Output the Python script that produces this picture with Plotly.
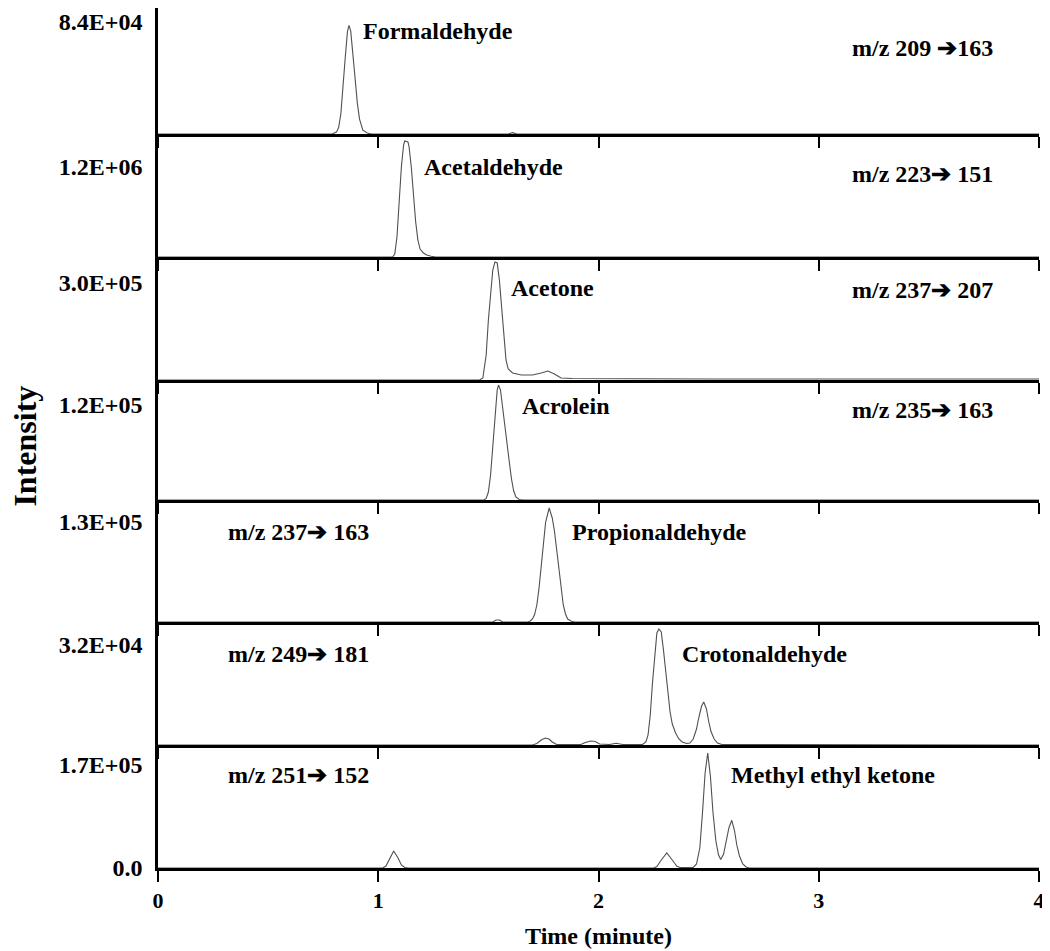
import plotly.graph_objects as go
from plotly.subplots import make_subplots

# Chromatogram traces (time in minutes, intensity in counts)
form_t = [0, 0.79, 0.81, 0.82, 0.83, 0.84, 0.85, 0.86, 0.867, 0.875, 0.885, 0.895, 0.905, 0.915, 0.93, 0.95, 0.97,
          1.59, 1.61, 1.63, 4.0]
form_i = [0, 0, 1400, 4900, 14800, 33000, 57000, 76600, 81500, 77300, 61900, 41500, 23200, 11200, 2800, 700, 0,
          0, 1000, 0, 0]

acet_t = [0, 1.065, 1.075, 1.085, 1.095, 1.105, 1.115, 1.12, 1.135, 1.14, 1.15, 1.16, 1.17, 1.18, 1.19, 1.205,
          1.22, 1.24, 1.26, 4.0]
acet_i = [0, 0, 40000, 265000, 729000, 1193000, 1485000, 1538000, 1525000, 1459000, 1193000, 822000, 464000,
          225000, 106000, 53000, 26500, 10600, 0, 0]

acetone_t = [0, 1.46, 1.475, 1.49, 1.50, 1.51, 1.52, 1.53, 1.54, 1.55, 1.56, 1.57, 1.58, 1.59, 1.61, 1.65, 1.70,
             1.74, 1.77, 1.80, 1.83, 1.88, 2.5, 3.5, 4.0]
acetone_i = [0, 0, 6200, 77300, 185600, 278000, 340000, 365000, 362000, 309000, 216500, 123700, 61900, 34000,
             21700, 15500, 15500, 21700, 27800, 18600, 6200, 4600, 3100, 3100, 3100]

acro_t = [0, 1.48, 1.49, 1.50, 1.51, 1.52, 1.53, 1.54, 1.546, 1.555, 1.565, 1.575, 1.585, 1.595, 1.605, 1.615,
          1.625, 1.64, 1.66, 4.0]
acro_i = [0, 0, 1900, 10100, 31600, 65700, 107400, 138900, 145200, 138900, 116200, 90900, 72000, 48000, 26500,
          11400, 3800, 630, 0, 0]

prop_t = [0, 1.52, 1.535, 1.55, 1.565, 1.68, 1.69, 1.70, 1.71, 1.72, 1.73, 1.74, 1.75, 1.76, 1.776, 1.79, 1.80,
          1.81, 1.82, 1.83, 1.84, 1.85, 1.86, 1.875, 1.89, 4.0]
prop_i = [0, 0, 2600, 2600, 0, 0, 1300, 3900, 9750, 22100, 44200, 72800, 104000, 130000, 148200, 135200, 118300,
          93600, 65000, 40300, 22100, 10400, 3900, 1300, 0, 0]

crot_t = [0, 1.70, 1.72, 1.74, 1.758, 1.775, 1.79, 1.81, 1.92, 1.94, 1.965, 1.985, 2.005, 2.05, 2.08, 2.11, 2.20,
          2.215, 2.225, 2.235, 2.245, 2.255, 2.265, 2.274, 2.285, 2.295, 2.305, 2.315, 2.325, 2.335, 2.35, 2.365,
          2.38, 2.40, 2.415, 2.43, 2.445, 2.455, 2.468, 2.478, 2.49, 2.50, 2.51, 2.525, 2.54, 2.56, 4.0]
crot_i = [0, 0, 480, 1600, 2240, 1920, 960, 160, 160, 800, 1280, 1120, 320, 160, 540, 160, 160,
          960, 3200, 9600, 19840, 29440, 35840, 37120, 36160, 30400, 23040, 16000, 10560, 6720, 3840, 1920,
          960, 480, 640, 1920, 5120, 8640, 12480, 13760, 11520, 7680, 4480, 1920, 640, 160, 0]

mek_t = [0, 1.02, 1.035, 1.05, 1.07, 1.09, 1.105, 1.12, 1.14, 2.25, 2.265, 2.285, 2.31, 2.335, 2.355, 2.37, 2.43,
         2.445, 2.46, 2.472, 2.484, 2.496, 2.508, 2.52, 2.533, 2.545, 2.555, 2.568, 2.58, 2.592, 2.605, 2.617,
         2.628, 2.64, 2.655, 2.67, 2.685, 4.0]
mek_i = [0, 0, 3300, 14850, 28050, 16500, 4950, 825, 0, 0, 2475, 13200, 24750, 13200, 3300, 825, 825,
         6600, 33000, 90750, 156750, 189750, 151800, 90750, 44550, 21450, 14025, 23100, 42900, 66000, 78700, 62700,
         37950, 19800, 6600, 1650, 0, 0]

compounds = ["Formaldehyde", "Acetaldehyde", "Acetone", "Acrolein",
             "Propionaldehyde", "Crotonaldehyde", "Methyl ethyl ketone"]
transitions = ["m/z 209 ➔163", "m/z 223➔ 151", "m/z 237➔ 207", "m/z 235➔ 163",
               "m/z 237➔ 163", "m/z 249➔ 181", "m/z 251➔ 152"]
scale_vals = [8.4e4, 1.2e6, 3.0e5, 1.2e5, 1.3e5, 3.2e4, 1.7e5]
scale_text = ["8.4E+04", "1.2E+06", "3.0E+05", "1.2E+05", "1.3E+05", "3.2E+04", "1.7E+05"]
x_ticks = [0, 1, 2, 3, 4]

traces = [(form_t, form_i), (acet_t, acet_i), (acetone_t, acetone_i), (acro_t, acro_i),
          (prop_t, prop_i), (crot_t, crot_i), (mek_t, mek_i)]

# layout helpers (panel tops, label placement)
# the page body adds an 8px margin, so the figure is 8px smaller than the window
y_tops = [94500, 1631000, 380400, 151600, 158600, 39360, 203000]
name_pos = [(0.922, 0.817), (1.198, 0.73), (1.593, 0.75), (1.643, 0.78),
            (1.87, 0.74), (2.369, 0.74), (2.592, 0.755)]
mz_pos = [(3.141, 0.685), (3.141, 0.675), (3.141, 0.73), (3.141, 0.75),
          (0.309, 0.74), (0.309, 0.74), (0.309, 0.755)]

serif = "Liberation Serif"
n = len(compounds)

fig = make_subplots(rows=n, cols=1, shared_xaxes=True, vertical_spacing=0,
                    row_heights=[126, 123, 123, 120, 122, 123, 123])

for i, (t, inten) in enumerate(traces):
    row = i + 1
    fig.add_trace(go.Scatter(x=t, y=inten, mode="lines", line=dict(color="#505050", width=1.1),
                             showlegend=False, hoverinfo="skip"), row=row, col=1)

    tv = [scale_vals[i]]
    tt = [scale_text[i]]
    if row == n:
        tv = [0] + tv
        tt = ["0.0"] + tt
    fig.update_yaxes(range=[0, y_tops[i]], tickvals=tv, ticktext=tt, ticks="",
                     showline=True, linecolor="black", linewidth=2.5, showgrid=False, zeroline=False,
                     ticklabelstandoff=8, ticklabeloverflow="allow", automargin=False,
                     tickfont=dict(family=serif, size=24, color="black", weight="bold"),
                     row=row, col=1)
    fig.update_xaxes(range=[0, 4], tickvals=x_ticks, ticks="outside", ticklen=11, tickwidth=2,
                     tickcolor="black", showline=True, linecolor="black", linewidth=2.5,
                     showgrid=False, zeroline=False, automargin=False, ticklabeloverflow="allow",
                     tickfont=dict(family=serif, size=22, color="black", weight="bold"),
                     row=row, col=1)

    xref = "x" if row == 1 else f"x{row}"
    yref = ("y" if row == 1 else f"y{row}") + " domain"
    fig.add_annotation(x=name_pos[i][0], y=name_pos[i][1], xref=xref, yref=yref, text=compounds[i],
                       showarrow=False, xanchor="left", yanchor="middle",
                       font=dict(family=serif, size=24, color="black", weight="bold"))
    fig.add_annotation(x=mz_pos[i][0], y=mz_pos[i][1], xref=xref, yref=yref, text=transitions[i],
                       showarrow=False, xanchor="left", yanchor="middle",
                       font=dict(family=serif, size=24, color="black", weight="bold"))

fig.update_xaxes(title=dict(text="Time (minute)", standoff=16,
                            font=dict(family=serif, size=24, color="black", weight="bold")),
                 row=n, col=1)

# shared y title
fig.add_annotation(x=-133 / 881, y=0.49, xref="paper", yref="paper", text="Intensity",
                   textangle=-90, showarrow=False, xanchor="center", yanchor="middle",
                   font=dict(family=serif, size=32, color="black", weight="bold"))

fig.update_layout(
    width=1042,
    height=943,
    margin=dict(l=150, r=11, t=0, b=83),
    paper_bgcolor="white",
    plot_bgcolor="white",
)

fig.write_html("out.html")
